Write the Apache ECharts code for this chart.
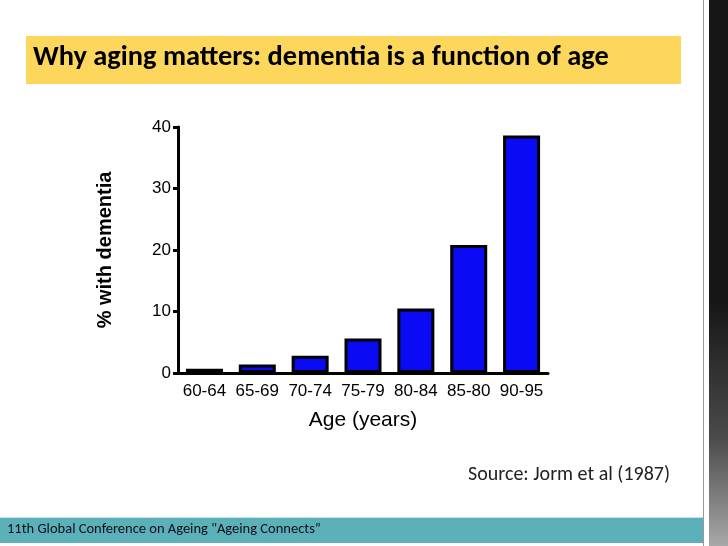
<!DOCTYPE html>
<html>
<head>
<meta charset="utf-8">
<script src="https://cdn.jsdelivr.net/npm/echarts@6/dist/echarts.min.js"></script>
<style>
    html, body { margin: 0; padding: 0; background: #fff; overflow: hidden; }
    #chart { width: 728px; height: 546px; }
</style>
</head>
<body>
<div id="chart"></div>
<script>
// age groups (the "85-80" label is as printed on the slide)
var ageGroups = ["60-64", "65-69", "70-74", "75-79", "80-84", "85-80", "90-95"];
// percent with dementia, Jorm et al (1987)
var dementiaPct = [0.7, 1.4, 2.8, 5.6, 10.5, 20.8, 38.6];
var yTicks = [0, 10, 20, 30, 40];

var titleText = "Why aging matters: dementia is a function of age";
var sourceText = "Source: Jorm et al (1987)";
var footerText = "11th Global Conference on Ageing \"Ageing Connects\u201D";

var slideFont = "Carlito, 'Liberation Sans Narrow', 'Open Sans', sans-serif";
var chartFont = "'Liberation Sans', Arial, sans-serif";

var myChart = echarts.init(document.getElementById("chart"));

var option = {
    backgroundColor: "#ffffff",
    animation: false,
    grid: { left: 178, right: 180, top: 127, bottom: 173 },
    xAxis: {
        type: "category",
        data: ageGroups,
        name: "Age (years)",
        nameLocation: "middle",
        nameGap: 37,
        nameTextStyle: { fontFamily: chartFont, fontSize: 21, color: "#000" },
        axisLine: { lineStyle: { color: "#000", width: 3 } },
        axisTick: { alignWithLabel: true, length: 5, lineStyle: { color: "#000", width: 3 } },
        axisLabel: { fontFamily: chartFont, fontSize: 17, color: "#000", margin: 10, interval: 0 }
    },
    yAxis: {
        type: "value",
        min: yTicks[0],
        max: yTicks[yTicks.length - 1],
        interval: 10,
        name: "% with dementia",
        nameLocation: "middle",
        nameGap: 63,
        nameTextStyle: { fontFamily: chartFont, fontSize: 20, fontWeight: "bold", color: "#000" },
        splitLine: { show: false },
        axisLine: { show: true, lineStyle: { color: "#000", width: 3 } },
        axisTick: { show: true, length: 5, lineStyle: { color: "#000", width: 3 } },
        axisLabel: { fontFamily: chartFont, fontSize: 17, color: "#000", margin: 7 }
    },
    series: [{
        type: "bar",
        data: dementiaPct,
        barWidth: "70%",
        itemStyle: { color: "#0a0af5", borderColor: "#000", borderWidth: 3 }
    }],
    graphic: [
        // title band
        { type: "rect", left: 26, top: 36, shape: { width: 655, height: 48 }, style: { fill: "#fdd75c" }, z: -1 },
        { type: "text", left: 33, top: 44, style: { text: titleText, font: "bold 28.4px " + slideFont, fill: "#000" } },
        // source
        { type: "text", left: 468, top: 465, style: { text: sourceText, font: "20px " + slideFont, fill: "#222" } },
        // footer band
        { type: "rect", left: 0, top: 517, shape: { width: 703, height: 1 }, style: { fill: "#bfe6ea" } },
        { type: "rect", left: 0, top: 518, shape: { width: 703, height: 25 }, style: { fill: "#5bb0ba" } },
        { type: "text", left: 7, top: 522, style: { text: footerText, font: "14.5px " + slideFont, fill: "#111" } },
        // right decorative strip: dark at the top, lighter towards the bottom
        { type: "rect", left: 703, top: 0, shape: { width: 1, height: 546 }, style: { fill: "#9a9a9a" } },
        {
            type: "rect", left: 709, top: 0, shape: { width: 19, height: 546 },
            style: {
                fill: {
                    type: "linear", x: 0, y: 0, x2: 0, y2: 1,
                    colorStops: [
                        { offset: 0, color: "#161616" },
                        { offset: 0.55, color: "#161616" },
                        { offset: 0.8, color: "#4a4a4a" },
                        { offset: 1, color: "#a8a8a8" }
                    ]
                }
            }
        }
    ]
};

myChart.setOption(option);
</script>
</body>
</html>
